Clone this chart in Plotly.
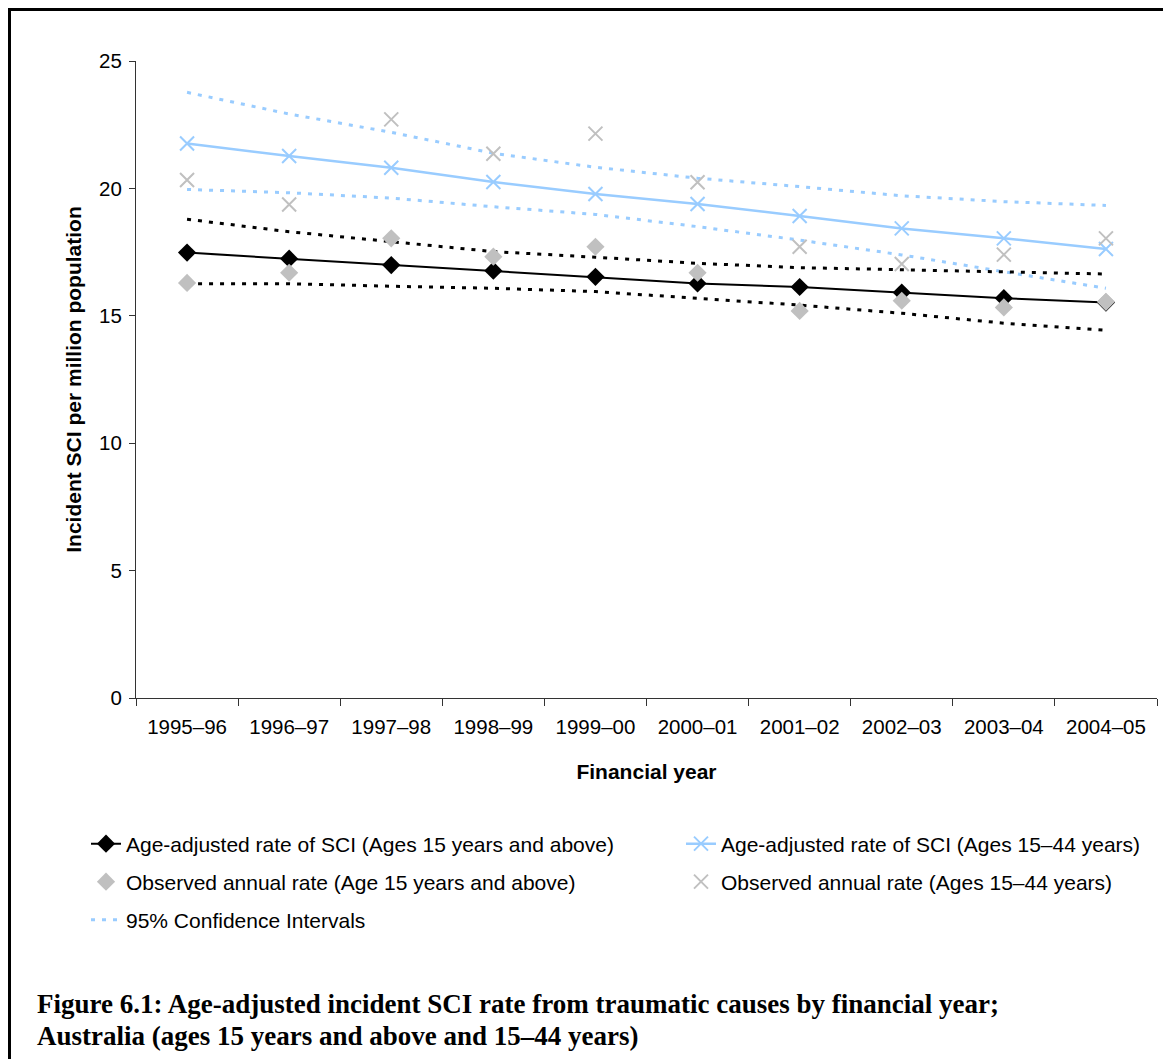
import plotly.graph_objects as go

# financial years (category axis)
years = ["1995–96", "1996–97", "1997–98", "1998–99", "1999–00",
         "2000–01", "2001–02", "2002–03", "2003–04", "2004–05"]

# ages 15 years and above
trend_15plus = [17.48, 17.24, 16.99, 16.77, 16.53, 16.27, 16.13, 15.91, 15.69, 15.52]
ci_15plus_upper = [18.79, 18.30, 17.91, 17.52, 17.30, 17.06, 16.89, 16.80, 16.71, 16.64]
ci_15plus_lower = [16.26, 16.26, 16.16, 16.08, 15.95, 15.69, 15.42, 15.10, 14.71, 14.43]
obs_15plus = [16.29, 16.69, 18.04, 17.32, 17.71, 16.69, 15.19, 15.59, 15.33, 15.55]

# ages 15-44 years
trend_1544 = [21.76, 21.27, 20.81, 20.25, 19.78, 19.39, 18.92, 18.43, 18.04, 17.62]
ci_1544_upper = [23.77, 22.92, 22.20, 21.38, 20.83, 20.40, 20.07, 19.71, 19.48, 19.33]
ci_1544_lower = [19.96, 19.83, 19.62, 19.28, 18.98, 18.50, 17.97, 17.39, 16.73, 16.08]
obs_1544 = [20.33, 19.37, 22.71, 21.36, 22.15, 20.24, 17.71, 17.03, 17.40, 18.04]

BLUE = "#99CCFF"
GREY = "#C0C0C0"
DOT = "4px,7px"

# page body has an 8px margin, so the figure is a bit smaller than the window
OFF = 8
W, H = 1171 - OFF, 1059 - OFF
L, R, T, B = 128, 14, 53, 361
pw, ph = W - L - R, H - T - B


def px_x(s):
    # screen px -> paper x
    return (s - OFF - L) / pw


def px_y(s):
    # screen px -> paper y
    return (H - B - (s - OFF)) / ph


fig = go.Figure()

# confidence interval lines (drawn first, behind everything)
fig.add_trace(go.Scatter(x=years, y=ci_1544_upper, mode="lines", name="95% Confidence Intervals",
                         line=dict(color=BLUE, width=3, dash=DOT), legend="legend5"))
fig.add_trace(go.Scatter(x=years, y=ci_1544_lower, mode="lines", showlegend=False,
                         line=dict(color=BLUE, width=3, dash=DOT)))
fig.add_trace(go.Scatter(x=years, y=ci_15plus_upper, mode="lines", showlegend=False,
                         line=dict(color="black", width=3, dash=DOT)))
fig.add_trace(go.Scatter(x=years, y=ci_15plus_lower, mode="lines", showlegend=False,
                         line=dict(color="black", width=3, dash=DOT)))

# fitted age-adjusted rates
fig.add_trace(go.Scatter(x=years, y=trend_15plus, mode="lines+markers",
                         name="Age-adjusted rate of SCI (Ages 15 years and above)",
                         line=dict(color="black", width=2),
                         marker=dict(symbol="diamond", size=14, color="black"),
                         legend="legend"))
fig.add_trace(go.Scatter(x=years, y=trend_1544, mode="lines+markers",
                         name="Age-adjusted rate of SCI (Ages 15–44 years)",
                         line=dict(color=BLUE, width=2.5),
                         marker=dict(symbol="x-thin", size=14, color=BLUE,
                                     line=dict(color=BLUE, width=2)),
                         legend="legend2"))

# observed annual rates
fig.add_trace(go.Scatter(x=years, y=obs_15plus, mode="markers",
                         name="Observed annual rate (Age 15 years and above)",
                         marker=dict(symbol="diamond", size=14, color=GREY),
                         legend="legend3"))
fig.add_trace(go.Scatter(x=years, y=obs_1544, mode="markers",
                         name="Observed annual rate (Ages 15–44 years)",
                         marker=dict(symbol="x-thin", size=14, color=GREY,
                                     line=dict(color=GREY, width=2)),
                         legend="legend4"))


def leg(x, y):
    return dict(orientation="h", xanchor="left", yanchor="middle",
                x=px_x(x), y=px_y(y),
                font=dict(family="Liberation Sans", size=21, color="black"),
                bgcolor="rgba(0,0,0,0)", itemclick=False)


fig.update_layout(
    width=W, height=H,
    margin=dict(l=L, r=R, t=T, b=B),
    paper_bgcolor="white", plot_bgcolor="white",
    font=dict(family="Liberation Sans", size=20, color="black"),
    legend=leg(86, 844),
    legend2=leg(681, 844),
    legend3=leg(86, 882),
    legend4=leg(681, 882),
    legend5=leg(86, 920),
    xaxis=dict(
        type="category", range=[-0.5, 9.5],
        showline=True, linecolor="#333333", linewidth=1,
        ticks="outside", tickson="boundaries", ticklen=7, tickcolor="#333333",
        showgrid=False, zeroline=False,
        tickfont=dict(size=20.5), ticklabelstandoff=10,
        title=dict(text="<b>Financial year</b>", font=dict(size=21), standoff=27),
    ),
    yaxis=dict(
        range=[0, 25], dtick=5,
        showline=True, linecolor="#333333", linewidth=1,
        ticks="outside", ticklen=6, tickcolor="#333333",
        showgrid=False, zeroline=False,
        tickfont=dict(size=20.5), ticklabelstandoff=3,
        title=dict(text="<b>Incident SCI per million population</b>", font=dict(size=21), standoff=11),
    ),
)

# outer frame around the whole figure
fig.add_shape(type="rect", xref="paper", yref="paper",
              x0=px_x(9.5), x1=px_x(1190), y0=px_y(9.5), y1=px_y(1080),
              line=dict(color="black", width=3), fillcolor="rgba(0,0,0,0)")

# figure caption
cap_font = dict(family="Liberation Serif", size=27, color="black")
fig.add_annotation(text="<b>Figure 6.1: Age-adjusted incident SCI rate from traumatic causes by financial year;</b>",
                   xref="paper", yref="paper", x=px_x(35), y=px_y(1004),
                   xanchor="left", yanchor="middle", showarrow=False, font=cap_font)
fig.add_annotation(text="<b>Australia (ages 15 years and above and 15–44 years)</b>",
                   xref="paper", yref="paper", x=px_x(35), y=px_y(1036),
                   xanchor="left", yanchor="middle", showarrow=False, font=cap_font)

fig.write_html("out.html")
